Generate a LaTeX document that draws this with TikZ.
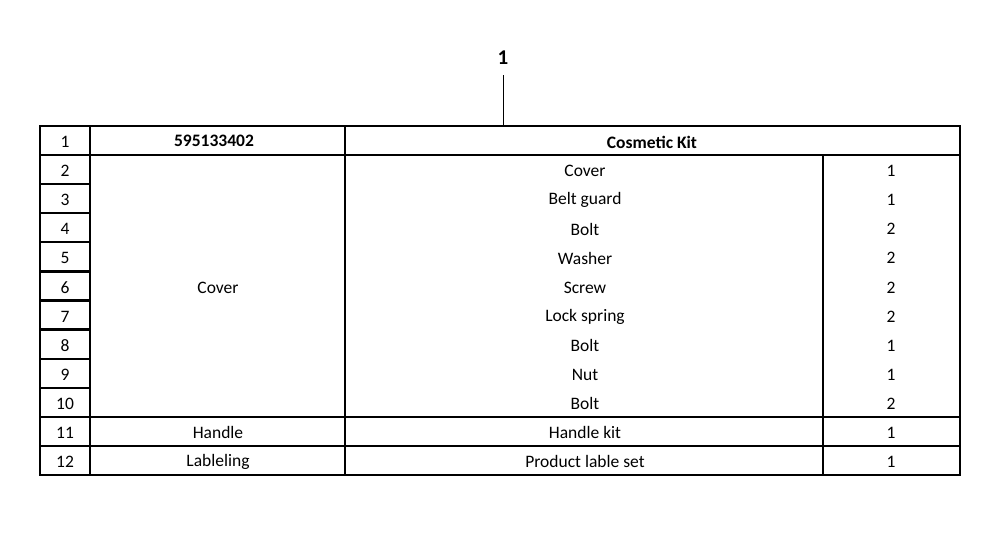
\documentclass[tikz,border=0pt]{standalone}
\usepackage{fontspec}
\setmainfont{Carlito}
\begin{document}
\begin{tikzpicture}[x=1pt,y=-1pt,
  grid/.style={line width=2.2pt},
  txt/.style={font=\fontsize{17.5}{20}\selectfont,inner sep=0pt,anchor=center}]
\useasboundingbox (0,0) rectangle (990,557);
\def\rh{29.08}
\draw[grid] (40,126) rectangle (960,475);
\foreach \i in {1,10,11} \draw[grid] (40,{126+\i*\rh}) -- (960,{126+\i*\rh});
\foreach \i in {2,...,9} \draw[grid] (40,{126+\i*\rh}) -- (90,{126+\i*\rh});
\draw[grid] (90,126) -- (90,475);
\draw[grid] (345,126) -- (345,475);
\draw[grid] (823,{126+\rh}) -- (823,475);
\node[txt] (n1) at (65,{126+0.55*\rh}) {1};
\node[txt,font=\fontsize{17.5}{20}\selectfont\bfseries] (pn) at (214,{126+0.5*\rh}) {595133402};
\node[txt,font=\fontsize{17.5}{20}\selectfont\bfseries] (kit) at (652,{126+0.55*\rh}) {Cosmetic Kit};
\foreach \k in {2,...,12}
  \node[txt] (num\k) at (65,{126+(\k-0.45)*\rh}) {\k};
\node[txt] (gcover) at (218,{126+5.55*\rh}) {Cover};
\node[txt] (ghandle) at (218,{126+10.55*\rh}) {Handle};
\node[txt] (glab) at (218,{126+11.55*\rh}) {Lableling};
\foreach \k/\t/\q in {2/Cover/1,3/Belt guard/1,4/Bolt/2,5/Washer/2,6/Screw/2,7/Lock spring/2,8/Bolt/1,9/Nut/1,10/Bolt/2,11/Handle kit/1,12/Product lable set/1}{
  \node[txt] (d\k) at (585,{126+(\k-0.45)*\rh}) {\t};
  \node[txt] (q\k) at (891,{126+(\k-0.45)*\rh}) {\q};
}
\node[txt,font=\fontsize{21}{24}\selectfont\bfseries] (lab) at (503,58) {1};
\coordinate (tabtop) at (503,126);
\draw[line width=1pt] (503,75) -- (tabtop);
\end{tikzpicture}
\end{document}
